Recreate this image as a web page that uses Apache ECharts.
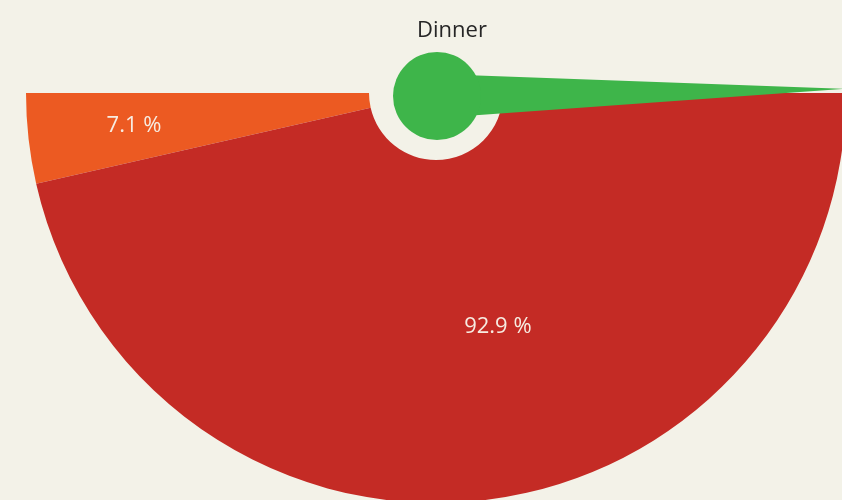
<!DOCTYPE html>
<html>
<head>
<meta charset="utf-8">
<title>Dinner</title>
<script src="https://cdn.jsdelivr.net/npm/echarts@6/dist/echarts.min.js"></script>
<style>
    html, body { margin: 0; padding: 0; background: #f3f2e8; }
    #chart { width: 842px; height: 500px; }
</style>
</head>
<body>
<div id="chart"></div>
<script>
    // 数据
    var categories = ['Part A', 'Part B'];
    var values = [7.1, 92.9];
    var colors = ['#ec5a22', '#c42b25'];
    var needleValue = [100];

    (function () {
        var chart = echarts.init(document.getElementById('chart'));

        // 半圆饼图：下半部分，上半部分用透明块占位
        var pieData = categories.map(function (name, i) {
            return { name: name, value: values[i], itemStyle: { color: colors[i] } };
        });
        pieData.push({
            name: 'hidden',
            value: values.reduce(function (a, b) { return a + b; }, 0),
            itemStyle: { color: 'transparent' },
            label: { show: false },
            emphasis: { disabled: true }
        });

        chart.setOption({
            backgroundColor: '#f3f2e8',
            title: {
                text: 'Dinner',
                left: 447,
                top: 15,
                textAlign: 'center',
                textStyle: {
                    fontFamily: 'Open Sans',
                    fontSize: 22,
                    fontWeight: 'normal',
                    color: '#262626'
                }
            },
            series: [
                {
                    type: 'pie',
                    z: 2,
                    center: [436, 93],
                    radius: [67, 410],
                    startAngle: 180,
                    clockwise: false,
                    silent: true,
                    data: pieData,
                    label: {
                        show: true,
                        position: 'inside',
                        color: '#f7ece2',
                        fontFamily: 'Open Sans',
                        fontSize: 22,
                        formatter: function (p) { return p.value + ' %'; }
                    },
                    labelLine: { show: false },
                    labelLayout: function (params) {
                        if (params.dataIndex === 0) {
                            return { dx: -62, dy: 6 };
                        }
                        return { dx: 35, dy: -6 };
                    }
                },
                {
                    type: 'gauge',
                    z: 5,
                    center: [437, 96],
                    radius: 410,
                    startAngle: 180,
                    endAngle: 1,
                    min: 0,
                    max: 100,
                    silent: true,
                    axisLine: { show: false },
                    splitLine: { show: false },
                    axisTick: { show: false },
                    axisLabel: { show: false },
                    title: { show: false },
                    detail: { show: false },
                    pointer: {
                        icon: 'path://M0,100 L10,100 L5,0 Z',
                        length: 408,
                        width: 44,
                        itemStyle: { color: '#3eb54a' }
                    },
                    anchor: {
                        show: true,
                        showAbove: true,
                        size: 88,
                        itemStyle: { color: '#3eb54a' }
                    },
                    data: [{ value: needleValue[0], name: 'Dinner' }]
                }
            ]
        });
    })();
</script>
</body>
</html>
